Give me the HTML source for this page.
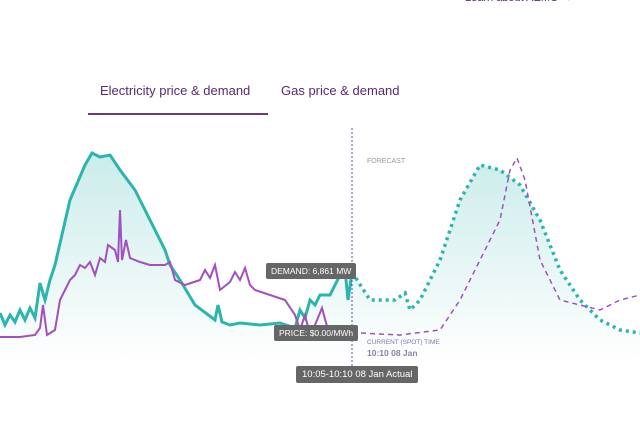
<!DOCTYPE html>
<html><head><meta charset="utf-8"><style>
body{margin:0;width:640px;height:432px;background:#fff;overflow:hidden;font-family:"Liberation Sans",sans-serif;position:relative}
.t{position:absolute;color:#5a2a6e;font-size:13px}
.tip{position:absolute;background:#666;color:#fff;font-size:8.5px;padding:3px 5px;border-radius:2px}
</style></head><body>
<div class="t" style="left:465px;top:-8px;font-size:11px">Learn about AEMO →</div>
<div class="t" style="left:100px;top:83px">Electricity price &amp; demand</div>
<div class="t" style="left:281px;top:83px">Gas price &amp; demand</div>
<div style="position:absolute;left:88px;top:113px;width:180px;height:2px;background:#6b3a78"></div>
<svg width="640" height="432" style="position:absolute;left:0;top:0">
<defs><linearGradient id="g" x1="0" y1="0" x2="0" y2="1"><stop offset="0" stop-color="#2bb5ad" stop-opacity="0.25"/><stop offset="1" stop-color="#2bb5ad" stop-opacity="0"/></linearGradient></defs>
<path d="M0,313 L10,322 15,310 25,320 35,318 40,283 45,300 55,265 70,200 85,165 92,153 100,157 110,155 120,170 135,190 150,220 165,250 170,265 180,280 195,305 215,320 225,322 230,325 240,323 260,325 280,323 295,328 305,315 315,300 330,295 340,275 348,300 352,272 370,300 385,300 395,300 405,293 410,310 420,300 440,260 460,200 480,165 500,170 520,185 540,220 560,270 580,300 600,320 620,330 640,333 L640,362 L0,362Z" fill="url(#g)"/>
<polyline fill="none" stroke="#2bb5ad" stroke-width="3" points="0,313 5,325 10,315 15,322 20,310 25,320 30,308 35,318 40,283 45,300 50,280 55,265 70,200 85,165 92,153 100,157 110,155 120,170 135,190 150,220 165,250 170,265 180,280 195,305 215,320 218,305 222,322 230,325 240,323 260,325 280,323 295,328 300,310 305,318 310,300 315,305 320,295 330,295 335,285 340,275 345,270 348,300 352,272"/>
<polyline fill="none" stroke="#2bb5ad" stroke-width="3.5" stroke-dasharray="3,4" points="352,272 370,300 385,300 395,300 405,293 410,310 420,300 440,260 460,200 480,165 500,170 520,185 540,220 560,270 580,300 600,320 620,330 640,333"/>
<polyline fill="none" stroke="#a24fc0" stroke-width="2" points="0,337 20,337 35,335 40,328 43,305 47,335 55,330 60,300 70,280 75,275 80,265 85,268 90,262 95,275 100,258 105,262 108,245 115,250 118,262 120,210 122,260 126,240 130,258 140,262 150,265 165,265 170,262 175,280 185,285 200,280 205,270 210,278 215,265 220,290 230,282 235,272 240,280 245,268 250,285 255,290 270,295 285,300 295,315 300,330 305,315 310,335 315,325 322,308 328,330 335,335 352,333"/>
<polyline fill="none" stroke="#a24fc0" stroke-width="1.5" stroke-dasharray="5,4" points="352,333 360,333 400,335 440,330 460,300 480,260 500,220 510,170 517,158 525,180 540,260 560,300 600,310 620,300 640,295"/>
<line x1="352" y1="128" x2="352" y2="380" stroke="#5a4a9a" stroke-width="1" stroke-dasharray="2,2"/>
<text x="367" y="163" font-size="7" fill="#999">FORECAST</text>
<text x="367" y="344" font-size="6.5" fill="#8a70b0">CURRENT (SPOT) TIME</text>
<text x="367" y="356" font-size="8.5" font-weight="bold" fill="#8a80a8">10:10 08 Jan</text>
</svg>
<div class="tip" style="left:266px;top:263px">DEMAND: 6,861 MW</div>
<div class="tip" style="left:274px;top:325px">PRICE: $0.00/MWh</div>
<div class="tip" style="left:296px;top:366px;font-size:9.5px;padding:3px 6px">10:05-10:10 08 Jan Actual</div>
</body></html>
